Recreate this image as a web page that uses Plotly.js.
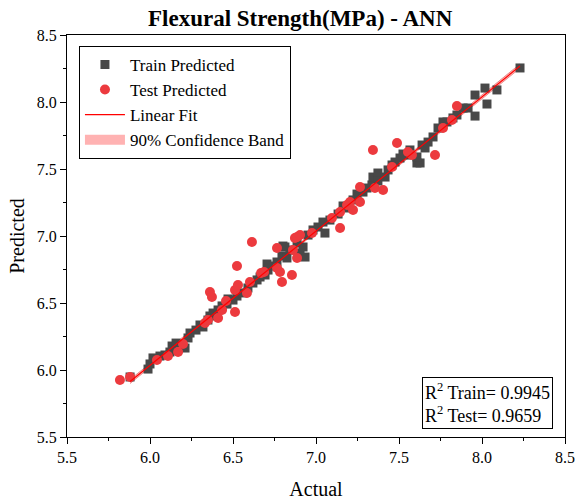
<!DOCTYPE html>
<html>
<head>
<meta charset="utf-8">
<script src="https://cdn.plot.ly/plotly-3.0.1.min.js"></script>
<style>html,body{margin:0;padding:0;background:#fff;}#chart{width:575px;height:502px;}</style>
</head>
<body>
<div id="chart"></div>
<script>
const trainX = [5.880,5.988,6.000,6.018,6.060,6.090,6.120,6.133,6.157,6.211,6.229,6.241,6.277,6.301,6.319,6.349,6.361,6.380,6.410,6.434,6.464,6.470,6.500,6.524,6.560,6.590,6.620,6.645,6.663,6.693,6.705,6.711,6.741,6.765,6.795,6.801,6.825,6.843,6.813,6.886,6.904,6.922,6.934,6.952,6.982,7.012,7.042,7.054,7.084,7.133,7.163,7.187,7.223,7.247,7.283,7.307,7.337,7.343,7.373,7.373,7.416,7.434,7.458,7.476,7.506,7.524,7.548,7.566,7.608,7.627,7.608,7.639,7.657,7.675,7.705,7.735,7.765,7.789,7.825,7.849,7.886,7.916,7.958,7.958,8.018,8.030,8.090,8.229];
const trainY = [5.948,6.007,6.045,6.090,6.104,6.112,6.134,6.179,6.201,6.164,6.239,6.276,6.298,6.336,6.321,6.373,6.403,6.425,6.448,6.478,6.492,6.530,6.522,6.552,6.575,6.612,6.649,6.672,6.694,6.709,6.791,6.746,6.776,6.806,6.851,6.925,6.836,6.895,6.918,6.948,6.873,6.918,6.843,7.007,7.045,7.067,7.104,7.022,7.119,7.164,7.224,7.209,7.269,7.313,7.328,7.358,7.381,7.440,7.470,7.410,7.440,7.493,7.530,7.552,7.582,7.612,7.604,7.642,7.545,7.545,7.590,7.679,7.657,7.701,7.739,7.806,7.851,7.851,7.881,7.903,7.955,7.955,7.895,8.052,8.104,7.985,8.090,8.254];
const testX = [5.819,5.880,6.042,6.108,6.169,6.199,6.331,6.349,6.410,6.434,6.458,6.512,6.361,6.373,6.512,6.530,6.584,6.602,6.669,6.687,6.524,6.614,6.765,6.783,6.795,6.855,6.873,6.861,6.886,6.765,6.976,7.096,7.145,7.145,7.187,7.205,7.223,7.265,7.265,7.355,7.404,7.458,7.343,7.488,7.554,7.578,7.717,7.765,7.819,7.849,6.886,6.904];
const testY = [5.925,5.948,6.075,6.104,6.134,6.194,6.351,6.373,6.388,6.448,6.515,6.433,6.582,6.545,6.597,6.634,6.575,6.657,6.724,6.731,6.776,6.955,6.910,6.731,6.657,6.709,6.985,6.896,6.836,6.761,7.022,7.134,7.060,7.179,7.231,7.254,7.194,7.254,7.366,7.358,7.343,7.515,7.642,7.694,7.627,7.604,7.604,7.806,7.866,7.970,6.993,7.007];
const xTicks = [5.5,6.0,6.5,7.0,7.5,8.0,8.5];
const yTicks = [5.5,6.0,6.5,7.0,7.5,8.0,8.5];
const r2Train = "0.9945";
const r2Test = "0.9659";

// linear regression on training data
const n = trainX.length;
const mx = trainX.reduce((a,b)=>a+b,0)/n;
const my = trainY.reduce((a,b)=>a+b,0)/n;
let sxx=0, sxy=0;
for (let i=0;i<n;i++){ sxx+=(trainX[i]-mx)**2; sxy+=(trainX[i]-mx)*(trainY[i]-my); }
const slope = sxy/sxx, icpt = my - slope*mx;
let sse=0; for (let i=0;i<n;i++){ sse += (trainY[i]-(icpt+slope*trainX[i]))**2; }
const s = Math.sqrt(sse/(n-2));
const tval = 1.663;
const xmin = Math.min(...trainX), xmax = Math.max(...trainX);
const fx=[], fy=[], up=[], lo=[];
for (let k=0;k<=60;k++){
  const x = xmin + (xmax-xmin)*k/60;
  const yh = icpt + slope*x;
  const se = s*Math.sqrt(1/n + (x-mx)**2/sxx);
  fx.push(x); fy.push(yh); up.push(yh+tval*se); lo.push(yh-tval*se);
}
const font = "Liberation Serif, Times New Roman, serif";

const traces = [
  {x: fx.concat(fx.slice().reverse()), y: up.concat(lo.slice().reverse()), type:'scatter', mode:'lines',
   fill:'toself', fillcolor:'rgb(255,178,178)', line:{color:'rgb(235,140,140)', width:1},
   name:'90% Confidence Band', legendgroup:'band', showlegend:false, hoverinfo:'skip'},
  {x: [null], y: [null], type:'scatter', mode:'lines', name:'90% Confidence Band',
   legendgroup:'band', legendrank:4, line:{color:'rgb(255,178,178)', width:10}},
  {x: trainX, y: trainY, type:'scatter', mode:'markers', name:'Train Predicted', legendrank:1,
   marker:{symbol:'square', size:9, color:'rgb(72,72,72)'}},
  {x: testX, y: testY, type:'scatter', mode:'markers', name:'Test Predicted', legendrank:2,
   marker:{symbol:'circle', size:10, color:'rgb(236,58,62)'}},
  {x: fx, y: fy, type:'scatter', mode:'lines', name:'Linear Fit', legendrank:3,
   line:{color:'rgb(255,0,0)', width:1.2}}
];

const layout = {
  width:575, height:502,
  margin:{l:67, r:10, t:35, b:65},
  paper_bgcolor:'#fff', plot_bgcolor:'#fff',
  font:{family:font, color:'#000', size:16},
  title:{text:'<b>Flexural Strength(MPa) - ANN</b>', font:{family:font, size:23, color:'#000'},
         x:0.522, xanchor:'center', y:0.965, yanchor:'middle'},
  xaxis:{range:[5.5,8.5], tickvals:xTicks, ticktext:xTicks.map(v=>v.toFixed(1)),
         ticks:'outside', ticklen:6, tickwidth:1, tickcolor:'#000',
         minor:{dtick:0.25, tick0:5.5, ticks:'outside', ticklen:3, tickcolor:'#000'},
         showline:true, linecolor:'#000', linewidth:1, mirror:true, showgrid:false, zeroline:false,
         tickfont:{family:font, size:16},
         title:{text:'Actual', font:{family:font, size:20}, standoff:16}},
  yaxis:{range:[5.5,8.5], tickvals:yTicks, ticktext:yTicks.map(v=>v.toFixed(1)),
         ticks:'outside', ticklen:6, tickwidth:1, tickcolor:'#000',
         minor:{dtick:0.25, tick0:5.5, ticks:'outside', ticklen:3, tickcolor:'#000'},
         showline:true, linecolor:'#000', linewidth:1, mirror:true, showgrid:false, zeroline:false,
         tickfont:{family:font, size:16},
         title:{text:'Predicted', font:{family:font, size:20}, standoff:6}},
  showlegend:true,
  legend:{x:0.024, y:0.973, xanchor:'left', yanchor:'top', bgcolor:'#fff',
          bordercolor:'#000', borderwidth:1, font:{family:font, size:17}, tracegroupgap:0, itemwidth:40},
  annotations:[{xref:'paper', yref:'paper', x:0.976, y:0.02, xanchor:'right', yanchor:'bottom',
    text:'R<sup>2</sup> Train= '+r2Train+'<br>R<sup>2</sup> Test= '+r2Test, align:'left', showarrow:false,
    font:{family:font, size:18, color:'#000'}, bordercolor:'#000', borderwidth:1, borderpad:2, bgcolor:'#fff'}]
};
Plotly.newPlot('chart', traces, layout, {displayModeBar:false, staticPlot:true});
</script>
</body>
</html>
